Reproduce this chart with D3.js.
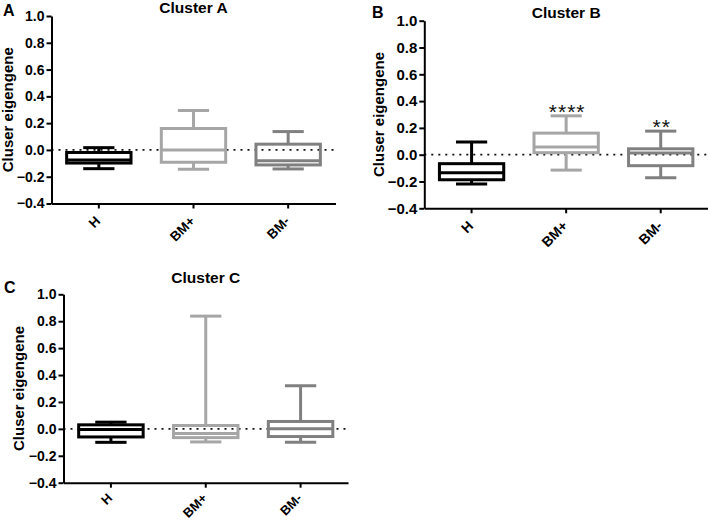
<!DOCTYPE html>
<html>
<head>
<meta charset="utf-8">
<script src="https://cdn.jsdelivr.net/npm/d3@7/dist/d3.min.js"></script>
<style>
  html, body { margin: 0; padding: 0; background: #fff; }
  svg { display: block; font-family: "Liberation Sans", Arial, sans-serif; }
</style>
</head>
<body>
<svg id="chart" width="708" height="522"></svg>
<script>
// ---- data ----
const categories = ["H", "BM+", "BM-"];
const yTicks = [-0.4, -0.2, 0.0, 0.2, 0.4, 0.6, 0.8, 1.0];
const yLabel = "Cluser eigengene";
// [min, q1, median, q3, max] per category
const clusterA = [
  [-0.14, -0.098, -0.075, -0.019, 0.017],
  [-0.145, -0.092, 0.0, 0.16, 0.295],
  [-0.142, -0.112, -0.08, 0.043, 0.137]
];
const clusterB = [
  [-0.219, -0.187, -0.134, -0.067, 0.095],
  [-0.115, 0.015, 0.057, 0.161, 0.29],
  [-0.172, -0.082, 0.012, 0.044, 0.176]
];
const clusterC = [
  [-0.1, -0.06, -0.005, 0.03, 0.05],
  [-0.097, -0.065, -0.035, 0.025, 0.838],
  [-0.1, -0.057, 0.0, 0.055, 0.32]
];
const starsB = ["", "****", "**"];
const colors = ["#000000", "#a6a6a6", "#808080"];

const svg = d3.select("#chart");

function panel(cfg) {
  const { letter, title, data, stars, x0, x1, yTop, yBot, letterPos, titleY, labelX, tickFont, xFont, xOff } = cfg;
  const g = svg.append("g");
  const x = d3.scaleBand().domain(categories).range([x0, x1]).padding(0);
  const y = d3.scaleLinear().domain([-0.4, 1.0]).range([yBot, yTop]);

  // dotted zero line
  g.append("line")
    .attr("x1", x0).attr("x2", x1)
    .attr("y1", y(0)).attr("y2", y(0))
    .attr("stroke", "#111").attr("stroke-width", 1.8)
    .attr("stroke-dasharray", "2,5");

  // boxes
  const bw = x.bandwidth() * 0.68;
  const cw = x.bandwidth() * 0.33;
  categories.forEach((c, i) => {
    const d = data[i];
    const cx = x(c) + x.bandwidth() / 2;
    const col = colors[i];
    const bg = g.append("g").attr("stroke", col).attr("stroke-width", 3).attr("fill", "none");
    bg.append("line").attr("x1", cx).attr("x2", cx).attr("y1", y(d[3])).attr("y2", y(d[4]));
    bg.append("line").attr("x1", cx).attr("x2", cx).attr("y1", y(d[1])).attr("y2", y(d[0]));
    bg.append("line").attr("x1", cx - cw / 2).attr("x2", cx + cw / 2).attr("y1", y(d[4])).attr("y2", y(d[4]));
    bg.append("line").attr("x1", cx - cw / 2).attr("x2", cx + cw / 2).attr("y1", y(d[0])).attr("y2", y(d[0]));
    bg.append("rect").attr("x", cx - bw / 2).attr("width", bw)
      .attr("y", y(d[3])).attr("height", y(d[1]) - y(d[3]));
    bg.append("line").attr("x1", cx - bw / 2).attr("x2", cx + bw / 2).attr("y1", y(d[2])).attr("y2", y(d[2]));
    if (stars && stars[i]) {
      g.append("text").attr("x", cx + 1).attr("y", y(d[4]) + 3)
        .attr("text-anchor", "middle").attr("font-size", 21)
        .attr("letter-spacing", "1px").attr("fill", "#111")
        .text(stars[i]);
    }
  });

  // y axis
  const ya = g.append("g").attr("transform", `translate(${x0},0)`)
    .call(d3.axisLeft(y).tickValues(yTicks).tickFormat(d3.format(".1f")).tickSize(5).tickSizeOuter(0).tickPadding(2));
  ya.select(".domain").attr("stroke", "#000").attr("stroke-width", 2);
  ya.selectAll(".tick line").attr("stroke", "#000").attr("stroke-width", 2);
  ya.selectAll(".tick text").attr("font-size", tickFont).attr("font-weight", "bold").attr("fill", "#000")
    .attr("font-family", '"Liberation Sans", Arial, sans-serif');

  // x axis
  const xa = g.append("g").attr("transform", `translate(0,${yBot})`)
    .call(d3.axisBottom(x).tickSize(5).tickSizeOuter(0));
  xa.select(".domain").attr("stroke", "#000").attr("stroke-width", 2);
  xa.selectAll(".tick line").attr("stroke", "#000").attr("stroke-width", 2);
  xa.selectAll(".tick text")
    .attr("font-size", xFont).attr("font-weight", "bold").attr("fill", "#000")
    .attr("font-family", '"Liberation Sans", Arial, sans-serif')
    .attr("text-anchor", "end")
    .attr("x", 0).attr("y", 0).attr("dy", "0.35em")
    .attr("transform", `translate(-1,${xOff}) rotate(-45)`);

  // y label
  g.append("text")
    .attr("transform", `translate(${labelX},${(yTop + yBot) / 2}) rotate(-90)`)
    .attr("text-anchor", "middle").attr("font-size", 15).attr("font-weight", "bold")
    .attr("fill", "#000").text(yLabel);

  // title
  g.append("text").attr("x", (x0 + x1) / 2).attr("y", titleY)
    .attr("text-anchor", "middle").attr("font-size", 15.5).attr("font-weight", "bold")
    .attr("fill", "#000").text(title);

  // panel letter
  g.append("text").attr("x", letterPos[0]).attr("y", letterPos[1])
    .attr("font-size", 16).attr("font-weight", "bold").attr("fill", "#000").text(letter);
}

panel({ letter: "A", title: "Cluster A", data: clusterA, stars: null, tickFont: 14, xFont: 13.5, xOff: 15,
  x0: 51.5, x1: 335.5, yTop: 16, yBot: 203.5, letterPos: [3, 16], titleY: 13, labelX: 13 });
panel({ letter: "B", title: "Cluster B", data: clusterB, stars: starsB, tickFont: 15, xFont: 14, xOff: 15,
  x0: 424.3, x1: 708, yTop: 20.7, yBot: 208.3, letterPos: [372, 17.5], titleY: 18, labelX: 384 });
panel({ letter: "C", title: "Cluster C", data: clusterC, stars: null, tickFont: 14, xFont: 13, xOff: 13,
  x0: 63.5, x1: 348, yTop: 294.3, yBot: 482.7, letterPos: [4, 292.5], titleY: 282.5, labelX: 24 });
</script>
</body>
</html>
